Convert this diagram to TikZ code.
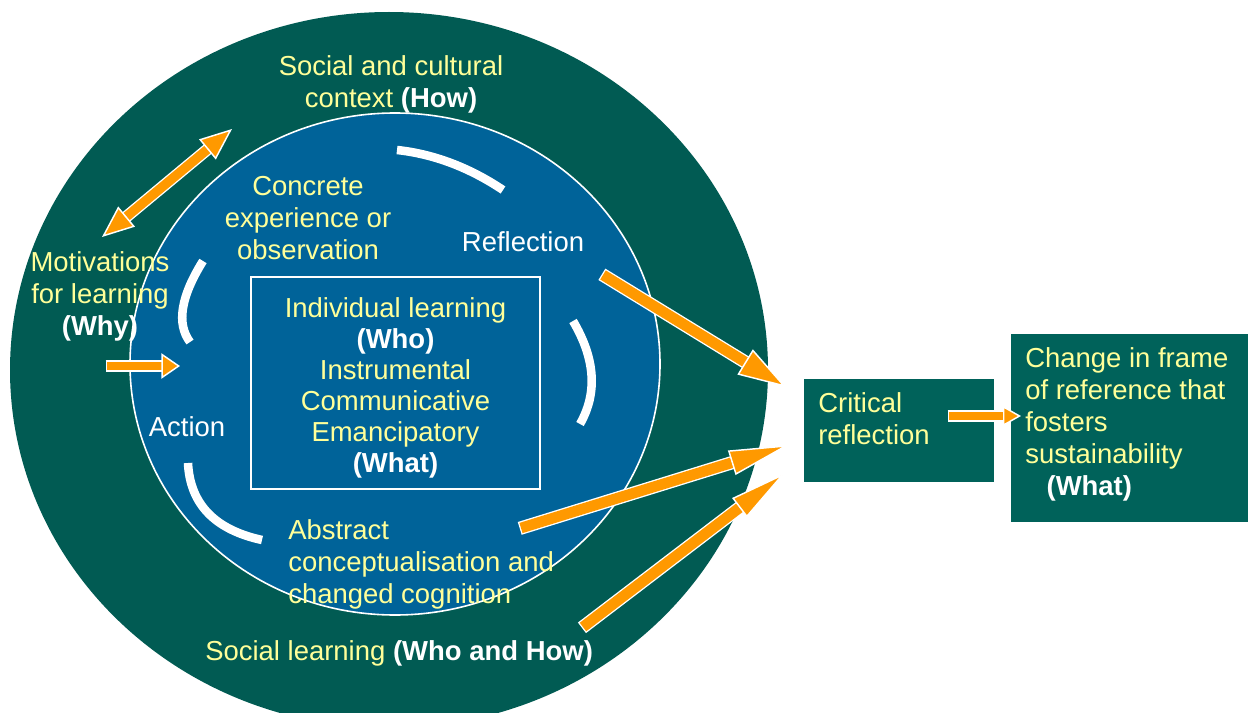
\documentclass[tikz,border=0pt]{standalone}
\usepackage{fontspec}
\setmainfont{Liberation Sans}
\usetikzlibrary{arrows.meta}

\definecolor{deepteal}{RGB}{1,91,83}
\definecolor{boxteal}{RGB}{0,98,90}
\definecolor{cycleblue}{RGB}{0,99,153}
\definecolor{amber}{RGB}{255,153,0}
\definecolor{paleyellow}{RGB}{255,255,153}

% bold white keyword in a yellow label
\newcommand{\wh}[1]{\textcolor{white}{\bfseries #1}}

\tikzset{
  lbl/.style={text=paleyellow, inner sep=0pt, font=\fontsize{20.6}{24}\selectfont},
  cyclearc/.style={draw=white, line width=6.4pt},
  fat/.style n args={3}{draw=amber, line width=#1,
    -{Triangle[length=#2, width=#3, color=white, fill=amber, line width=1.1pt]},
    preaction={draw=white, arrows=-, line width=#1+2pt, shorten >=#2-1pt, shorten <=-1pt}},
  fatboth/.style n args={3}{draw=amber, line width=#1,
    {Triangle[length=#2, width=#3, color=white, fill=amber, line width=1.1pt]}-{Triangle[length=#2, width=#3, color=white, fill=amber, line width=1.1pt]},
    preaction={draw=white, arrows=-, line width=#1+2pt, shorten >=#2-1pt, shorten <=#2-1pt}}
}

\begin{document}
\begin{tikzpicture}[x=0.75pt,y=0.75pt,yscale=-1,xscale=1]
  \useasboundingbox (0,0) rectangle (1248,713);
  \clip (0,0) rectangle (1248,713);

  %Shape: Ellipse, social and cultural context
  \fill[deepteal] (389,370) ellipse [x radius=379, y radius=358];
  %Shape: Ellipse, learning cycle
  \draw[white, line width=1.2pt, fill=cycleblue] (395,364) ellipse [x radius=265, y radius=251];

  %Shape: Rectangle, individual learning
  \node[draw=white, line width=1.2pt, minimum width=216.75pt, minimum height=159pt, inner sep=0pt] (indivbox) at (395.5,383) {};
  \node[lbl, align=center, font=\fontsize{20.6}{23.25}\selectfont] (indiv) at (395.5,388)
    {Individual learning\\\wh{(Who)}\\Instrumental\\Communicative\\Emancipatory\\\wh{(What)}};

  %Curve Lines, cycle segments
  \draw[cyclearc] (397,150) .. controls (433.7,154) and (469,167.3) .. (503,190);
  \draw[cyclearc] (573,321) .. controls (595.3,358.7) and (597.7,393) .. (580,424);
  \draw[cyclearc] (203,261) .. controls (180.7,296.7) and (176.3,323.7) .. (190,342);
  \draw[cyclearc] (188,463) .. controls (190,504) and (214.7,529.7) .. (262,540);

  % Text Node
  \node[lbl, align=center] (ctx) at (391,84) {Social and cultural\\context \wh{(How)}};
  \node[lbl, align=center] (concrete) at (308,218) {Concrete\\experience or\\observation};
  \node[lbl, text=white] (refl) at (523,242) {Reflection};
  \node[lbl, align=center] (motiv) at (100,296) {Motivations\\for learning\\\wh{(Why)}};
  \node[lbl, text=white] (act) at (187,427) {Action};
  \node[lbl, align=left, anchor=west] (abst) at (288,564) {Abstract\\conceptualisation and\\changed cognition};
  \node[lbl, anchor=west] (social) at (205,653) {Social learning \wh{(Who and How)}};

  %Shape: Rectangle, critical reflection
  \node[fill=boxteal, minimum width=142.5pt, minimum height=77.25pt, inner sep=0pt] (crit) at (899,430.5) {};
  \node[lbl, align=left, anchor=west] (crittext) at (818,418.5) {Critical\\reflection};

  %Shape: Rectangle, change in frame of reference
  \node[fill=boxteal, minimum width=185.25pt, minimum height=141pt, inner sep=0pt] (change) at (1134.5,428) {};
  \node[lbl, align=left, anchor=west] (changetext) at (1025,424)
    {Change in frame\\of reference that\\fosters\\sustainability\\\hspace*{16pt}\wh{(What)}};

  % arrow ends
  \coordinate (ctxend) at (232,129);
  \coordinate (motivend) at (102,237);
  \coordinate (intail) at (107,366);
  \coordinate (inhead) at (180,366);
  \coordinate (refltail) at (603,275);
  \coordinate (crit1) at (786,387);
  \coordinate (absttail) at (521,528);
  \coordinate (crit2) at (789,445);
  \coordinate (soctail) at (583,627);
  \coordinate (crit3) at (785,473);
  \coordinate (outtail) at (949,416);
  \coordinate (outhead) at (1021,416);

  %Block Arrows
  \draw[fatboth={7pt}{24pt}{19.5pt}] (motivend) -- (ctxend);
  \draw[fat={6.5pt}{14pt}{19pt}] (intail) -- (inhead);
  \draw[fat={8pt}{36pt}{22pt}] (refltail) -- (crit1);
  \draw[fat={8pt}{45pt}{19pt}] (absttail) -- (crit2);
  \draw[fat={8pt}{43pt}{18pt}] (soctail) -- (crit3);
  \draw[fat={6.5pt}{13.5pt}{15pt}] (outtail) -- (outhead);
\end{tikzpicture}
\end{document}
